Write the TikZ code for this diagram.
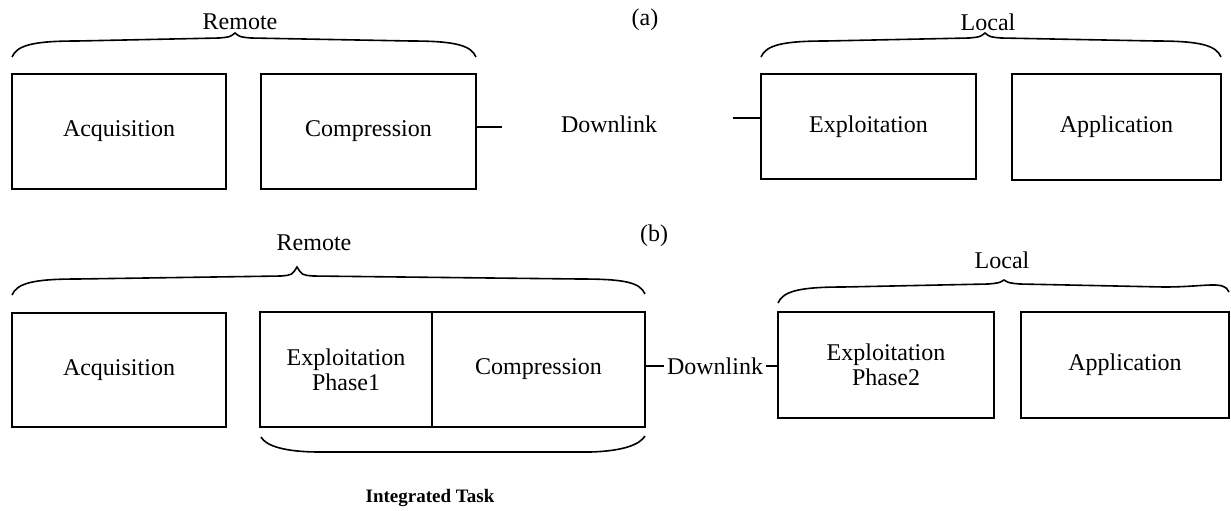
\documentclass[tikz,border=0pt]{standalone}
\usepackage{fontspec}
\setmainfont{Liberation Serif}
\begin{document}
\begin{tikzpicture}[x=0.5pt,y=-0.5pt,
  blk/.style={draw,line width=1pt,inner sep=0pt,align=center,font=\fontsize{12}{12.5}\selectfont},
  lbl/.style={inner sep=0pt,font=\fontsize{12}{14}\selectfont},
  brc/.style={line width=0.8pt},
  lnk/.style={line width=0.8pt}]
\useasboundingbox (0,0) rectangle (1231,510);
\newcommand{\mybrace}[7]{%
  \draw[brc] (#1,#2) .. controls ({#1+5},{#2-12}) and ({#1+22},{#7}) .. ({#1+65},{#7})
    -- ({#3-16},{#7-3}) .. controls ({#3-5},{#7-4}) .. (#3,#4)
    .. controls ({#3+5},{#7-4}) .. ({#3+16},{#7-3})
    -- ({#5-65},{#7}) .. controls ({#5-22},{#7}) and ({#5-5},{#6-12}) .. (#5,#6);}
% ---------- (a) ----------
\node[lbl] (ta) at (645,20) {(a)};
\node[lbl] (remA) at (240,22) {Remote};
\node[lbl] (locA) at (988,22) {Local};
\mybrace{12}{57}{235}{33}{476}{57}{41}
\mybrace{761}{57}{985}{33}{1221}{57}{41}
\node[blk,minimum width=107pt,minimum height=57.5pt] (acqA) at (119,131.5) {Acquisition};
\node[blk,minimum width=107.5pt,minimum height=57.5pt] (cmpA) at (368.5,131.5) {Compression};
\node[blk,minimum width=107.5pt,minimum height=52.5pt] (expA) at (868.5,126.5) {Exploitation};
\node[blk,minimum width=104.5pt,minimum height=53pt] (appA) at (1116.5,127) {Application};
\node[lbl] (dlA) at (609,124) {Downlink};
\coordinate (dlAl) at (502,127);
\coordinate (dlAr) at (733,118);
\draw[lnk] (cmpA.east |- dlAl) -- (dlAl);
\draw[lnk] (dlAr) -- (expA.west |- dlAr);
% ---------- (b) ----------
\node[lbl] (tb) at (654,236) {(b)};
\node[lbl] (remB) at (314,243) {Remote};
\node[lbl] (locB) at (1002,260) {Local};
\mybrace{12}{295}{297}{267}{645}{294}{279}
\mybrace{778}{303}{1004}{280}{1229}{292}{287}
\node[blk,minimum width=107pt,minimum height=57pt] (acqB) at (119,370) {Acquisition};
\node[blk,minimum width=86pt,minimum height=57.5pt] (ex1B) at (346,369.5) {Exploitation\\Phase1};
\node[blk,minimum width=106.5pt,minimum height=57.5pt] (cmpB) at (538.5,369.5) {Compression};
\node[blk,minimum width=108pt,minimum height=53pt] (ex2B) at (886,365) {Exploitation\\Phase2};
\node[blk,minimum width=104pt,minimum height=53pt] (appB) at (1125,365) {Application};
\node[lbl,inner xsep=1.5pt] (dlB) at (715,366) {Downlink};
\draw[lnk] (cmpB.east |- dlB) -- (dlB.west);
\draw[lnk] (dlB.east) -- (ex2B.west |- dlB);
\draw[brc] (261,437) .. controls (266,446) and (285,452) .. (320,452)
  -- (590,452) .. controls (625,451) and (640,444) .. (645,436);
\node[inner sep=0pt,font=\fontsize{9.5}{11}\selectfont\bfseries] (itB) at (430,498) {Integrated Task};
\end{tikzpicture}
\end{document}
